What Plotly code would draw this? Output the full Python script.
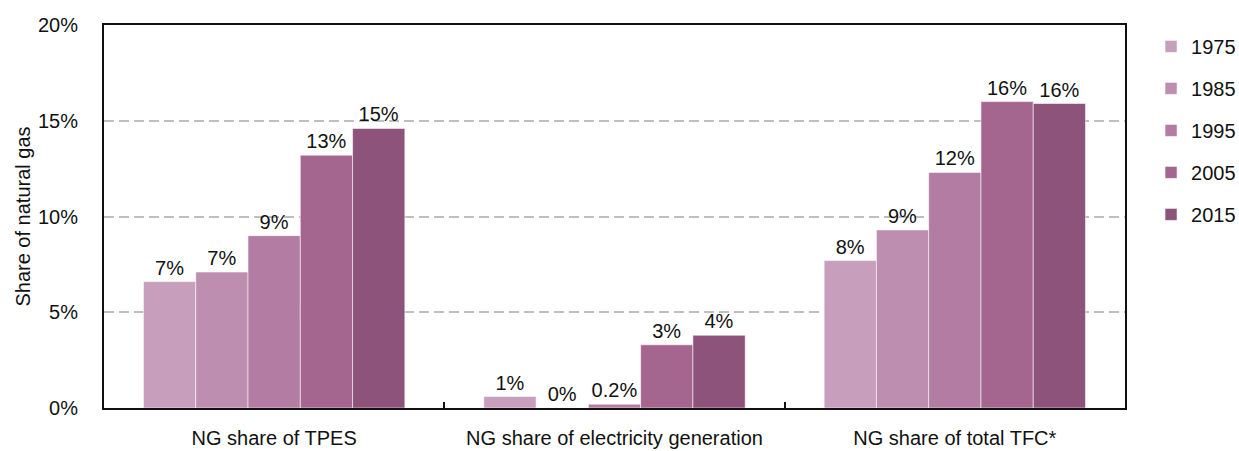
import plotly.graph_objects as go

# Categories and series
categories = ["NG share of TPES", "NG share of electricity generation", "NG share of total TFC*"]
years = ["1975", "1985", "1995", "2005", "2015"]

share_1975 = [6.6, 0.6, 7.7]
share_1985 = [7.1, 0.0, 9.3]
share_1995 = [9.0, 0.2, 12.3]
share_2005 = [13.2, 3.3, 16.0]
share_2015 = [14.6, 3.8, 15.9]

series = [share_1975, share_1985, share_1995, share_2005, share_2015]
colors = ["#C89EBD", "#BD8EAF", "#B37CA2", "#A4668F", "#8E537B"]

y_ticks = [0, 5, 10, 15, 20]
y_tick_labels = ["0%", "5%", "10%", "15%", "20%"]


def label(v):
    # small non-zero shares keep one decimal, the rest are whole percentages
    if 0 < v < 0.5:
        return f"{v:.1f}%"
    return f"{int(v + 0.5)}%"


font_family = "Liberation Sans, Arial, sans-serif"

fig = go.Figure()
for i, (yr, vals) in enumerate(zip(years, series)):
    fig.add_trace(go.Bar(
        name=yr,
        x=categories,
        y=vals,
        text=[label(v) for v in vals],
        textposition="outside",
        textfont=dict(size=20, color="#111111", family=font_family),
        cliponaxis=False,
        marker=dict(color=colors[i], line=dict(color="rgba(255,255,255,0.55)", width=1)),
        legendgroup=yr,
    ))

fig.update_layout(
    width=1239,
    height=451,
    margin=dict(l=104, r=114, t=25, b=43, autoexpand=False),
    paper_bgcolor="white",
    plot_bgcolor="white",
    barmode="group",
    bargap=0.232,
    bargroupgap=0,
    font=dict(family=font_family, size=20, color="#111111"),
    showlegend=True,
    legend=dict(
        x=1.0255, y=0.995, xanchor="left", yanchor="top",
        font=dict(size=20, color="#111111"),
        tracegroupgap=13,
        bgcolor="rgba(0,0,0,0)",
    ),
    xaxis=dict(
        automargin=False,
        showline=True, linecolor="#111111", linewidth=2, mirror=True,
        ticks="inside", tickson="boundaries", ticklen=6, tickwidth=1.5, tickcolor="#111111",
        ticklabelstandoff=11,
        showgrid=False,
        tickfont=dict(size=20),
    ),
    yaxis=dict(
        automargin=False,
        range=[0, 20],
        tickvals=y_ticks, ticktext=y_tick_labels,
        showline=True, linecolor="#111111", linewidth=2, mirror=True,
        ticks="",
        ticklabelstandoff=20,
        showgrid=True, gridcolor="#BFBFBF", gridwidth=1.5, griddash="10px,5px",
        zeroline=False,
        tickfont=dict(size=20),
        title=dict(text="Share of natural gas", font=dict(size=20), standoff=2),
    ),
)

fig.write_html("out.html")
